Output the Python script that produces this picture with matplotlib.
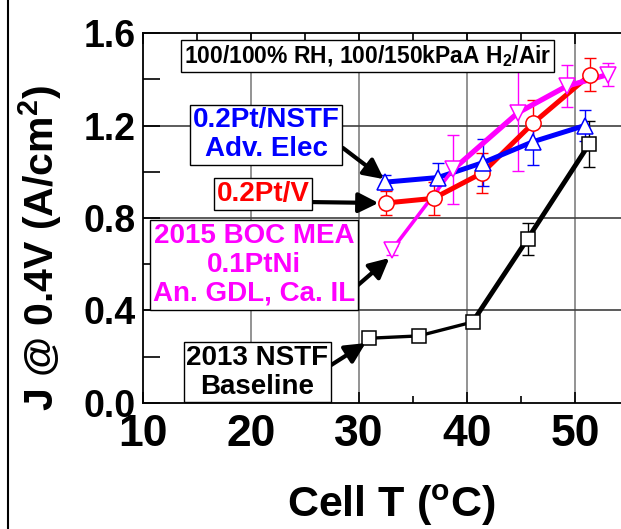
import matplotlib
matplotlib.use("Agg")
import matplotlib.pyplot as plt
from matplotlib.lines import Line2D
from matplotlib.ticker import MultipleLocator

plt.rcParams['font.family'] = ['Liberation Sans', 'DejaVu Sans']
plt.rcParams['font.weight'] = 'bold'
plt.rcParams['mathtext.fontset'] = 'custom'
plt.rcParams['mathtext.rm'] = 'Liberation Sans:bold'
plt.rcParams['mathtext.bf'] = 'Liberation Sans:bold'

# 2013 NSTF baseline
t_base = [30.9, 35.5, 40.5, 45.6, 51.3]
j_base = [0.28, 0.29, 0.35, 0.71, 1.12]
e_base = [0.01, 0.01, 0.02, 0.07, 0.10]

# 0.2Pt/NSTF advanced electrode
t_adv = [32.4, 37.3, 41.5, 46.1, 50.9]
j_adv = [0.955, 0.975, 1.04, 1.13, 1.20]
e_adv = [0.03, 0.065, 0.10, 0.10, 0.065]

# 0.2Pt/V
t_v = [32.5, 36.9, 41.4, 46.1, 51.4]
j_v = [0.865, 0.885, 0.995, 1.21, 1.42]
e_v = [0.05, 0.07, 0.085, 0.10, 0.07]

# 2015 BOC MEA 0.1PtNi
t_boc = [33.0, 38.7, 44.7, 49.2, 53.0]
j_boc = [0.66, 1.01, 1.255, 1.37, 1.42]
e_boc = [0.02, 0.15, 0.25, 0.09, 0.05]

x_ticks = [10, 20, 30, 40, 50]
y_ticks = [0.0, 0.4, 0.8, 1.2, 1.6]

fig = plt.figure(figsize=(6.21, 5.29), dpi=100)
ax = fig.add_axes([0.2303, 0.2382, 0.8003, 0.6994])
ax.set_xlim(10, 56)
ax.set_ylim(0, 1.6)

# grid
for xv in x_ticks[1:]:
    ax.axvline(xv, color='#808080', lw=1.2, zorder=0)
for yv in y_ticks[1:-1]:
    ax.axhline(yv, color='#404040', lw=1.2, zorder=0)


def series(t, j, e, color, marker, widths, ms=11):
    ax.errorbar(t, j, yerr=e, fmt='none', ecolor=color, elinewidth=1,
                capsize=4, capthick=1, zorder=2)
    for i, w in enumerate(widths):
        ax.plot(t[i:i + 2], j[i:i + 2], color=color, lw=w, zorder=3,
                solid_capstyle='butt')
    ax.plot(t, j, ls='none', marker=marker, ms=ms, mfc='white',
            mec=color, mew=1.1, zorder=4)


series(t_base, j_base, e_base, 'black', 's', [2.4, 2.4, 3.5, 3.5], ms=9.5)
series(t_v, j_v, e_v, '#ff0000', 'o', [3.6, 3.6, 3.6, 3.6])
series(t_adv, j_adv, e_adv, '#0000ff', '^', [3.6, 3.6, 3.6, 3.6])
series(t_boc, j_boc, e_boc, '#ff00ff', 'v', [2.6, 3.8, 3.8, 3.8])

# axes styling
ax.xaxis.set_minor_locator(MultipleLocator(5))
ax.yaxis.set_minor_locator(MultipleLocator(0.2))
ax.set_xticks(x_ticks)
ax.set_xticklabels([str(v) for v in x_ticks])
ax.set_yticks(y_ticks)
ax.set_yticklabels(['%.1f' % v for v in y_ticks])
ax.tick_params(axis='both', which='both', direction='in', top=True, width=1.2)
ax.tick_params(axis='x', which='major', length=8, labelsize=32, pad=8)
ax.tick_params(axis='x', which='minor', length=5)
ax.tick_params(axis='y', which='both', length=12, labelsize=27, pad=5)
for lab in ax.get_xticklabels() + ax.get_yticklabels():
    lab.set_fontweight('bold')
for s in ['left', 'bottom', 'top']:
    ax.spines[s].set_linewidth(1.3)
ax.spines['right'].set_visible(False)

ax.set_xlabel('Cell T ($\\mathregular{^oC}$)', fontsize=31, fontweight='bold',
              labelpad=20)
ax.set_ylabel('J @ 0.4V (A/cm$\\mathregular{^2}$)', fontsize=29.5, fontweight='bold')
ax.yaxis.set_label_coords(-0.158, 0.42)

# condition banner
ax.text(30.8, 1.50, '100/100% RH, 100/150kPaA H$\\mathregular{_2}$/Air', fontsize=16.5,
        fontweight='bold', ha='center', va='center', zorder=6,
        bbox=dict(boxstyle='square,pad=0.12', fc='white', ec='black', lw=1))

box = dict(boxstyle='square,pad=0.1', fc='white', ec='black', lw=1)
ax.text(21.4, 1.159, '0.2Pt/NSTF\nAdv. Elec', color='#0000ff', fontsize=20,
        fontweight='bold', ha='center', va='center', bbox=box, zorder=6,
        linespacing=1.15)
ax.text(21.1, 0.904, '0.2Pt/V', color='#ff0000', fontsize=20,
        fontweight='bold', ha='center', va='center', bbox=box, zorder=6)
ax.text(20.3, 0.597, '2015 BOC MEA\n0.1PtNi\nAn. GDL, Ca. IL', color='#ff00ff',
        fontsize=20, fontweight='bold', ha='center', va='center', bbox=box,
        zorder=6, linespacing=1.15)
ax.text(20.6, 0.134, '2013 NSTF\nBaseline', color='black', fontsize=20,
        fontweight='bold', ha='center', va='center', bbox=box, zorder=6,
        linespacing=1.15)

arrow = dict(arrowstyle='-|>', lw=3, color='black', mutation_scale=30,
             shrinkA=0, shrinkB=0)
ax.annotate('', xy=(32.3, 0.968), xytext=(28.5, 1.103), arrowprops=arrow, zorder=5)
ax.annotate('', xy=(31.8, 0.865), xytext=(25.4, 0.869), arrowprops=arrow, zorder=5)
ax.annotate('', xy=(32.8, 0.627), xytext=(29.9, 0.51), arrowprops=arrow, zorder=5)
ax.annotate('', xy=(30.6, 0.259), xytext=(26.4, 0.134), arrowprops=arrow, zorder=5)

# frame line on the left edge
fig.add_artist(Line2D([8 / 621, 8 / 621], [0, 1], color='black', lw=1.5,
                      transform=fig.transFigure))

fig.savefig('out.png', dpi=100)
